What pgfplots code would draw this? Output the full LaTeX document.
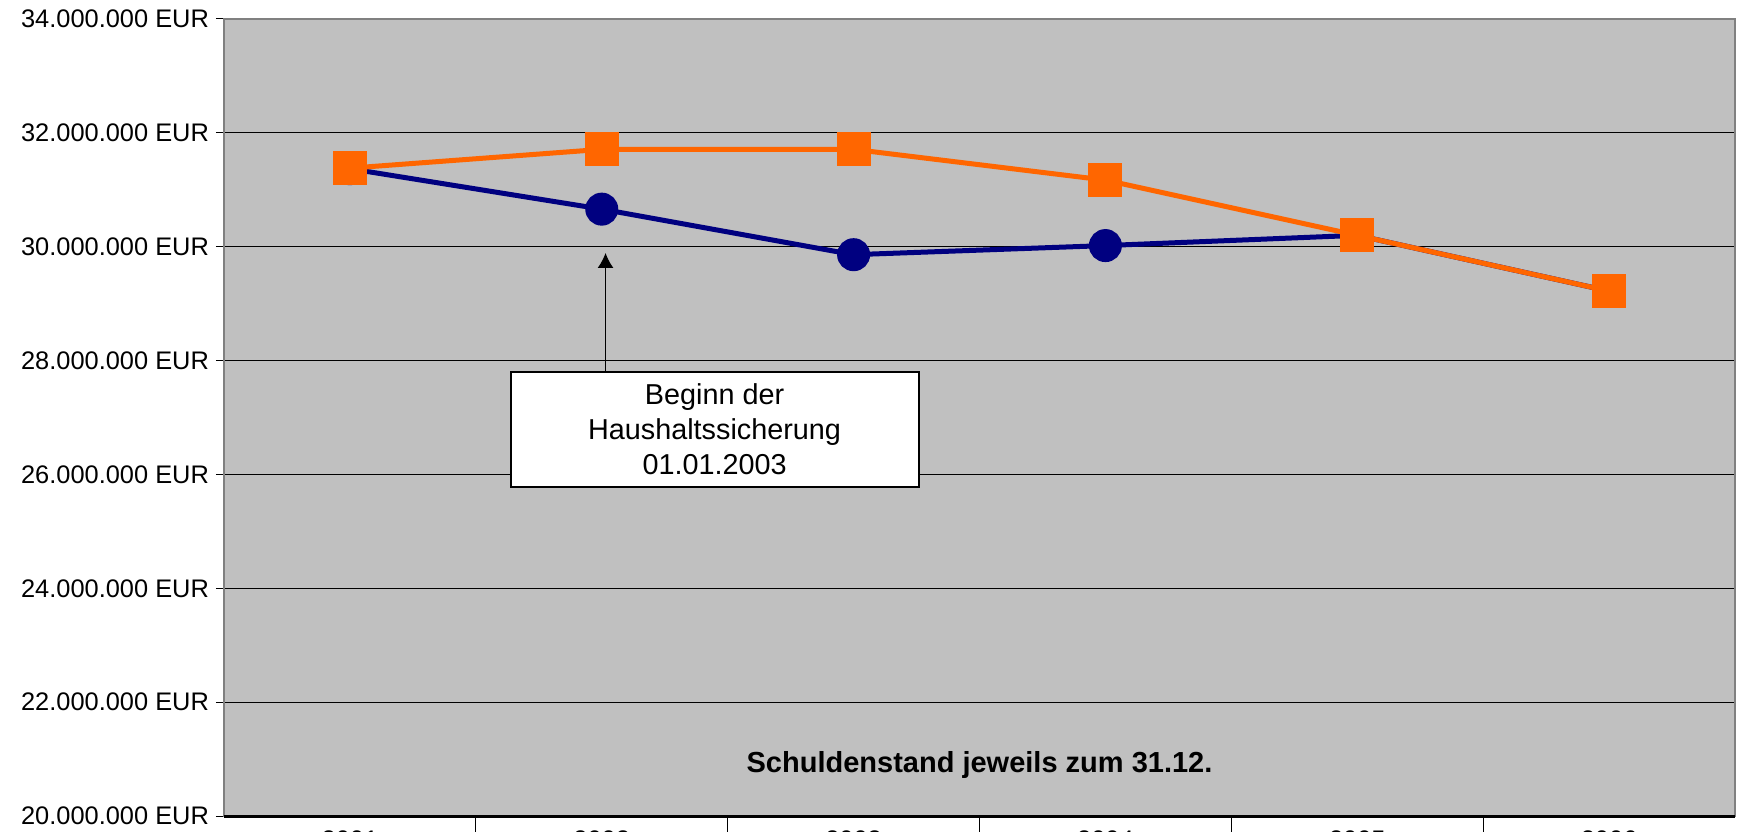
\documentclass[border=0pt]{standalone}
\usepackage{pgfplots}
\pgfplotsset{compat=1.18}
\usetikzlibrary{arrows.meta}
\usepackage{fontspec}
\setmainfont{Liberation Sans}
\definecolor{plotbg}{HTML}{C0C0C0}
\definecolor{navyline}{HTML}{000080}
\definecolor{orangeline}{HTML}{FF6600}
\begin{document}
\begin{tikzpicture}
\begin{axis}[
  name=ax,
  scale only axis,
  width=755.5pt, height=398.5pt,
  xmin=0.5, xmax=6.5,
  ymin=20, ymax=34,
  axis background/.style={fill=plotbg},
  axis line style={draw=gray, line width=1pt},
  xtick={1,2,3,4,5,6},
  xticklabels={2001,2002,2003,2004,2005,2006},
  xtick style={draw=none},
  ytick={20,22,24,26,28,30,32,34},
  yticklabels={20.000.000 EUR,22.000.000 EUR,24.000.000 EUR,26.000.000 EUR,28.000.000 EUR,30.000.000 EUR,32.000.000 EUR,34.000.000 EUR},
  ytick pos=left,
  tick align=outside,
  major tick length=4pt,
  ytick style={draw=black, line width=0.5pt},
  ymajorgrids,
  major grid style={draw=black, line width=0.5pt},
  ticklabel style={font=\fontsize{12.7}{15}\selectfont},
  yticklabel style={anchor=east},
  clip=false,
]
\addplot[navyline, line width=2.5pt, mark=*, mark size=7pt, mark options={fill=navyline, draw=navyline}]
  coordinates {(1,31.37) (2,30.66) (3,29.86) (4,30.02) (5,30.20) (6,29.22)};
\addplot[orangeline, line width=2.5pt, mark=square*, mark size=7.25pt, mark options={fill=orangeline, draw=orangeline}]
  coordinates {(1,31.38) (2,31.71) (3,31.71) (4,31.17) (5,30.20) (6,29.22)};
\draw[black, line width=1.5pt] (rel axis cs:0,0) -- (rel axis cs:1,0);
\draw[black, line width=0.5pt] (axis cs:1.5,20) -- (axis cs:1.5,19.4);
\draw[black, line width=0.5pt] (axis cs:2.5,20) -- (axis cs:2.5,19.4);
\draw[black, line width=0.5pt] (axis cs:3.5,20) -- (axis cs:3.5,19.4);
\draw[black, line width=0.5pt] (axis cs:4.5,20) -- (axis cs:4.5,19.4);
\draw[black, line width=0.5pt] (axis cs:5.5,20) -- (axis cs:5.5,19.4);
\draw[black, line width=0.7pt, -{Latex[length=7.5pt,width=8pt]}] (axis cs:2.015,27.8) -- (axis cs:2.015,29.89);
\node[draw=black, line width=1pt, fill=white, minimum width=204pt, minimum height=57.5pt, align=center,
  font=\fontsize{14.4}{17.5}\selectfont] at (axis cs:2.448,26.79)
  {Beginn der\\Haushaltssicherung\\01.01.2003};
\node[font=\bfseries\fontsize{14.5}{17}\selectfont] at (axis cs:3.5,20.9) {Schuldenstand jeweils zum 31.12.};
\end{axis}
\pgfresetboundingbox
\path ([shift={(-112pt,-7.5pt)}]ax.south west) rectangle ([shift={(3pt,9.5pt)}]ax.north east);
\end{tikzpicture}
\end{document}
